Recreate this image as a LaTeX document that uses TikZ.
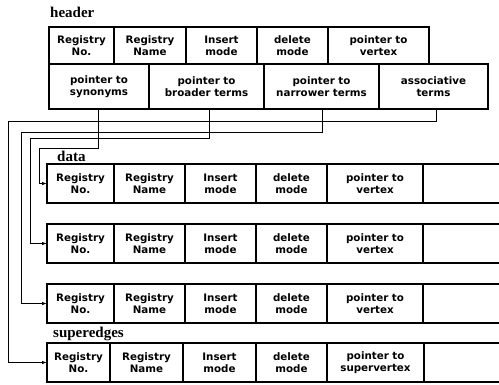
\documentclass[tikz,border=0pt]{standalone}
\usepackage{fontspec}
\newfontfamily\cellfam{DejaVu Sans}
\newfontfamily\labfam{Liberation Serif}
\usetikzlibrary{arrows.meta,calc}
\begin{document}
\begin{tikzpicture}[x=1pt,y=-1pt,
  cell/.style={draw,line width=1.1pt,inner sep=0pt,outer sep=0pt,align=center,
    font=\cellfam\bfseries\fontsize{10.3}{12}\selectfont},
  hdA/.style={cell,minimum height=37pt},
  hdB/.style={cell,minimum height=45pt},
  row/.style={cell,minimum height=39pt},
  lab/.style={anchor=base west,inner sep=0pt,font=\labfam\bfseries\fontsize{15}{18}\selectfont},
  conn/.style={line width=0.9pt,-{Latex[length=5pt,width=3.5pt]}}]
\useasboundingbox (0,0) rectangle (499,384);
\clip (0,0) rectangle (499,384);
% labels
\node[lab] (lh) at (50,17) {header};
\node[lab] (ld) at (57,161) {data};
\node[lab] (ls) at (53,337) {superedges};
% header row 1
\node[hdA,minimum width=65pt]  (h1) at (81.5,45.5)  {Registry\\No.};
\node[hdA,minimum width=72pt]  (h2) at (150,45.5)   {Registry\\Name};
\node[hdA,minimum width=71pt]  (h3) at (221.5,45.5) {Insert\\mode};
\node[hdA,minimum width=71pt]  (h4) at (292.5,45.5) {delete\\mode};
\node[hdA,minimum width=101pt] (h5) at (378.5,45.5) {pointer to\\vertex};
% header row 2
\node[hdB,minimum width=100pt] (syn) at (99,86.5)    {pointer to\\synonyms};
\node[hdB,minimum width=115pt] (brd) at (206.5,86.5) {pointer to\\broader terms};
\node[hdB,minimum width=115pt] (nar) at (321.5,86.5) {pointer to\\narrower terms};
\node[hdB,minimum width=109pt] (ass) at (433.5,86.5) {associative\\terms};
% data rows
\foreach \r/\cy in {1/183.5,2/243.5,3/303.5}{
  \node[row,minimum width=67pt] (d\r a) at (80.5,\cy)  {Registry\\No.};
  \node[row,minimum width=71pt] (d\r b) at (149.5,\cy) {Registry\\Name};
  \node[row,minimum width=71pt] (d\r c) at (220.5,\cy) {Insert\\mode};
  \node[row,minimum width=71pt] (d\r d) at (291.5,\cy) {delete\\mode};
  \node[row,minimum width=96pt] (d\r e) at (375,\cy)   {pointer to\\vertex};
  \node[row,minimum width=90pt] (d\r f) at (468,\cy)   {};
}
% superedges row
\node[row,minimum width=63pt] (s1) at (78.5,362.5)  {Registry\\No.};
\node[row,minimum width=73pt] (s2) at (146.5,362.5) {Registry\\Name};
\node[row,minimum width=73pt] (s3) at (219.5,362.5) {Insert\\mode};
\node[row,minimum width=71pt] (s4) at (291.5,362.5) {delete\\mode};
\node[row,minimum width=97pt] (s5) at (375.5,362.5) {pointer to\\supervertex};
\node[row,minimum width=90pt] (s6) at (469,362.5)   {};
% bend points
\coordinate (c1) at (39,148);
\coordinate (c2) at (30,138);
\coordinate (c3) at (21,132);
\coordinate (c4) at (8,121);
% connectors
\draw[conn] ([xshift=-1pt]syn.south) |- (c1) |- (d1a.west);
\draw[conn] ([xshift=2.5pt]brd.south) |- (c2) |- (d2a.west);
\draw[conn] ([xshift=0.5pt]nar.south) |- (c3) |- (d3a.west);
\draw[conn] ([xshift=2.5pt]ass.south) |- (c4) |- (s1.west);
\end{tikzpicture}
\end{document}
